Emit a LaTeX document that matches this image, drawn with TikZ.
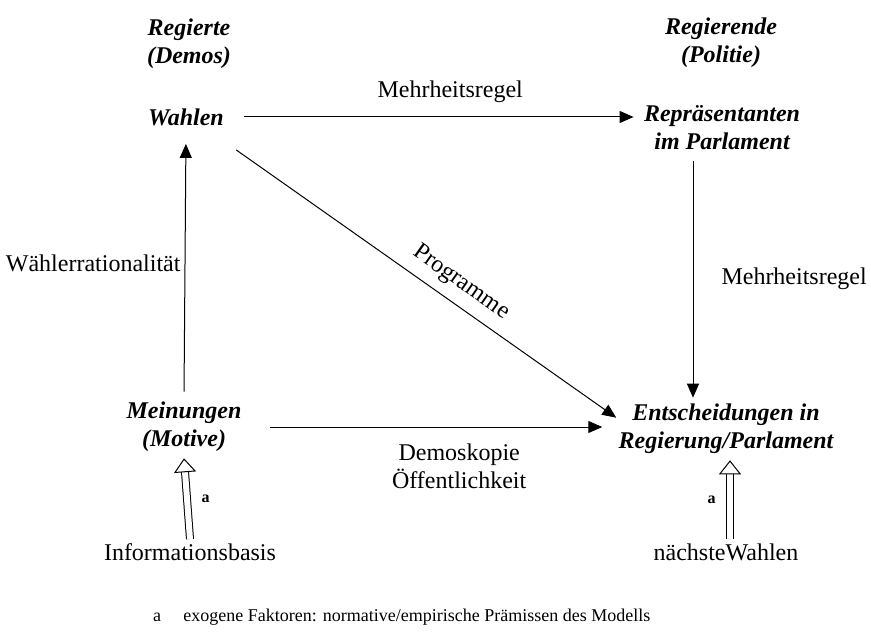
\documentclass[tikz,border=0pt]{standalone}
\usepackage{fontspec}
\setmainfont{Liberation Serif}
\usetikzlibrary{arrows.meta}
\tikzset{
  akteur/.style = {align=center, inner sep=3pt, font=\fontsize{12}{14}\selectfont\bfseries\itshape},% kursive Knoten
  lbl/.style = {align=center, inner sep=2pt, font=\fontsize{12}{14}\selectfont},% Beschriftung
  klein/.style = {inner sep=1pt, font=\fontsize{8}{9}\selectfont\bfseries},
  fuss/.style = {inner sep=0pt, font=\fontsize{9}{11}\selectfont},
  pfeil/.style = {-{Triangle[length=7pt,width=6pt]}, line width=0.5pt},
  hohl/.style = {double, double distance=3pt, line width=0.5pt,
    -{Triangle[open,length=7pt,width=11pt,line width=0.5pt]}},
}

\begin{document}
\begin{tikzpicture}[x=0.5pt,y=-0.5pt]
  \useasboundingbox (0,0) rectangle (871,635);
  % Kopfzeile
  \node[akteur] (regierte) at (189,44) {Regierte\\(Demos)};
  \node[akteur] (regierende) at (721,43) {Regierende\\(Politie)};

  \node[akteur] (wahlen) at (186,117) {Wahlen};
  \node[akteur] (repr) at (722,128) {Repräsentanten\\im Parlament};
  \node[akteur] (mein) at (184,427) {Meinungen\\(Motive)};
  \node[akteur] (entsch) at (726,429) {Entscheidungen in\\Regierung/Parlament};

  \node[lbl] (info) at (190,552) {Informationsbasis};
  \node[lbl] (naechste) at (726,552) {nächsteWahlen};

  %   Pfeile oben und links
  \draw[pfeil, shorten <=7pt, shorten >=2pt] (wahlen.east) -- (repr.west |- wahlen.east)
    node[lbl, pos=0.54, above=5pt] {Mehrheitsregel};
  \draw[pfeil, shorten <=2pt, shorten >=6pt] (mein.north) -- (wahlen.south)
    node[lbl, pos=0.5, left=0pt] {Wählerrationalität};
  \draw[pfeil] ([xshift=-14.5pt,yshift=-2pt]repr.south) -- ([xshift=-16.5pt,yshift=0pt]entsch.north)
    node[lbl, pos=0.5, right=12pt] {Mehrheitsregel};
  %   Pfeile zu den Entscheidungen
  \draw[pfeil] ([xshift=3pt,yshift=-9pt]wahlen.south east) -- ([xshift=2pt,yshift=-10pt]entsch.north west)
    node[lbl, pos=0.56, above=3pt, sloped] {Programme};
  \draw[pfeil, shorten <=11pt, shorten >=5pt] (mein.east) -- (mein.east -| entsch.west)
    node[lbl, pos=0.58, below=6pt] {Demoskopie\\Öffentlichkeit};
  %   exogene Faktoren
  \draw[hohl] (info.north) -- (mein.south) node[klein, pos=0.5, right=6pt] {a};
  \draw[hohl] ([xshift=2pt]naechste.north) -- ([xshift=2pt]entsch.south) node[klein, pos=0.5, left=6pt] {a};

  \node[fuss] (fna) at (157,617) {a};
  \node[fuss, anchor=west] (fnt) at (183,617) {exogene Faktoren: normative/empirische Prämissen des Modells};
\end{tikzpicture}
\end{document}
